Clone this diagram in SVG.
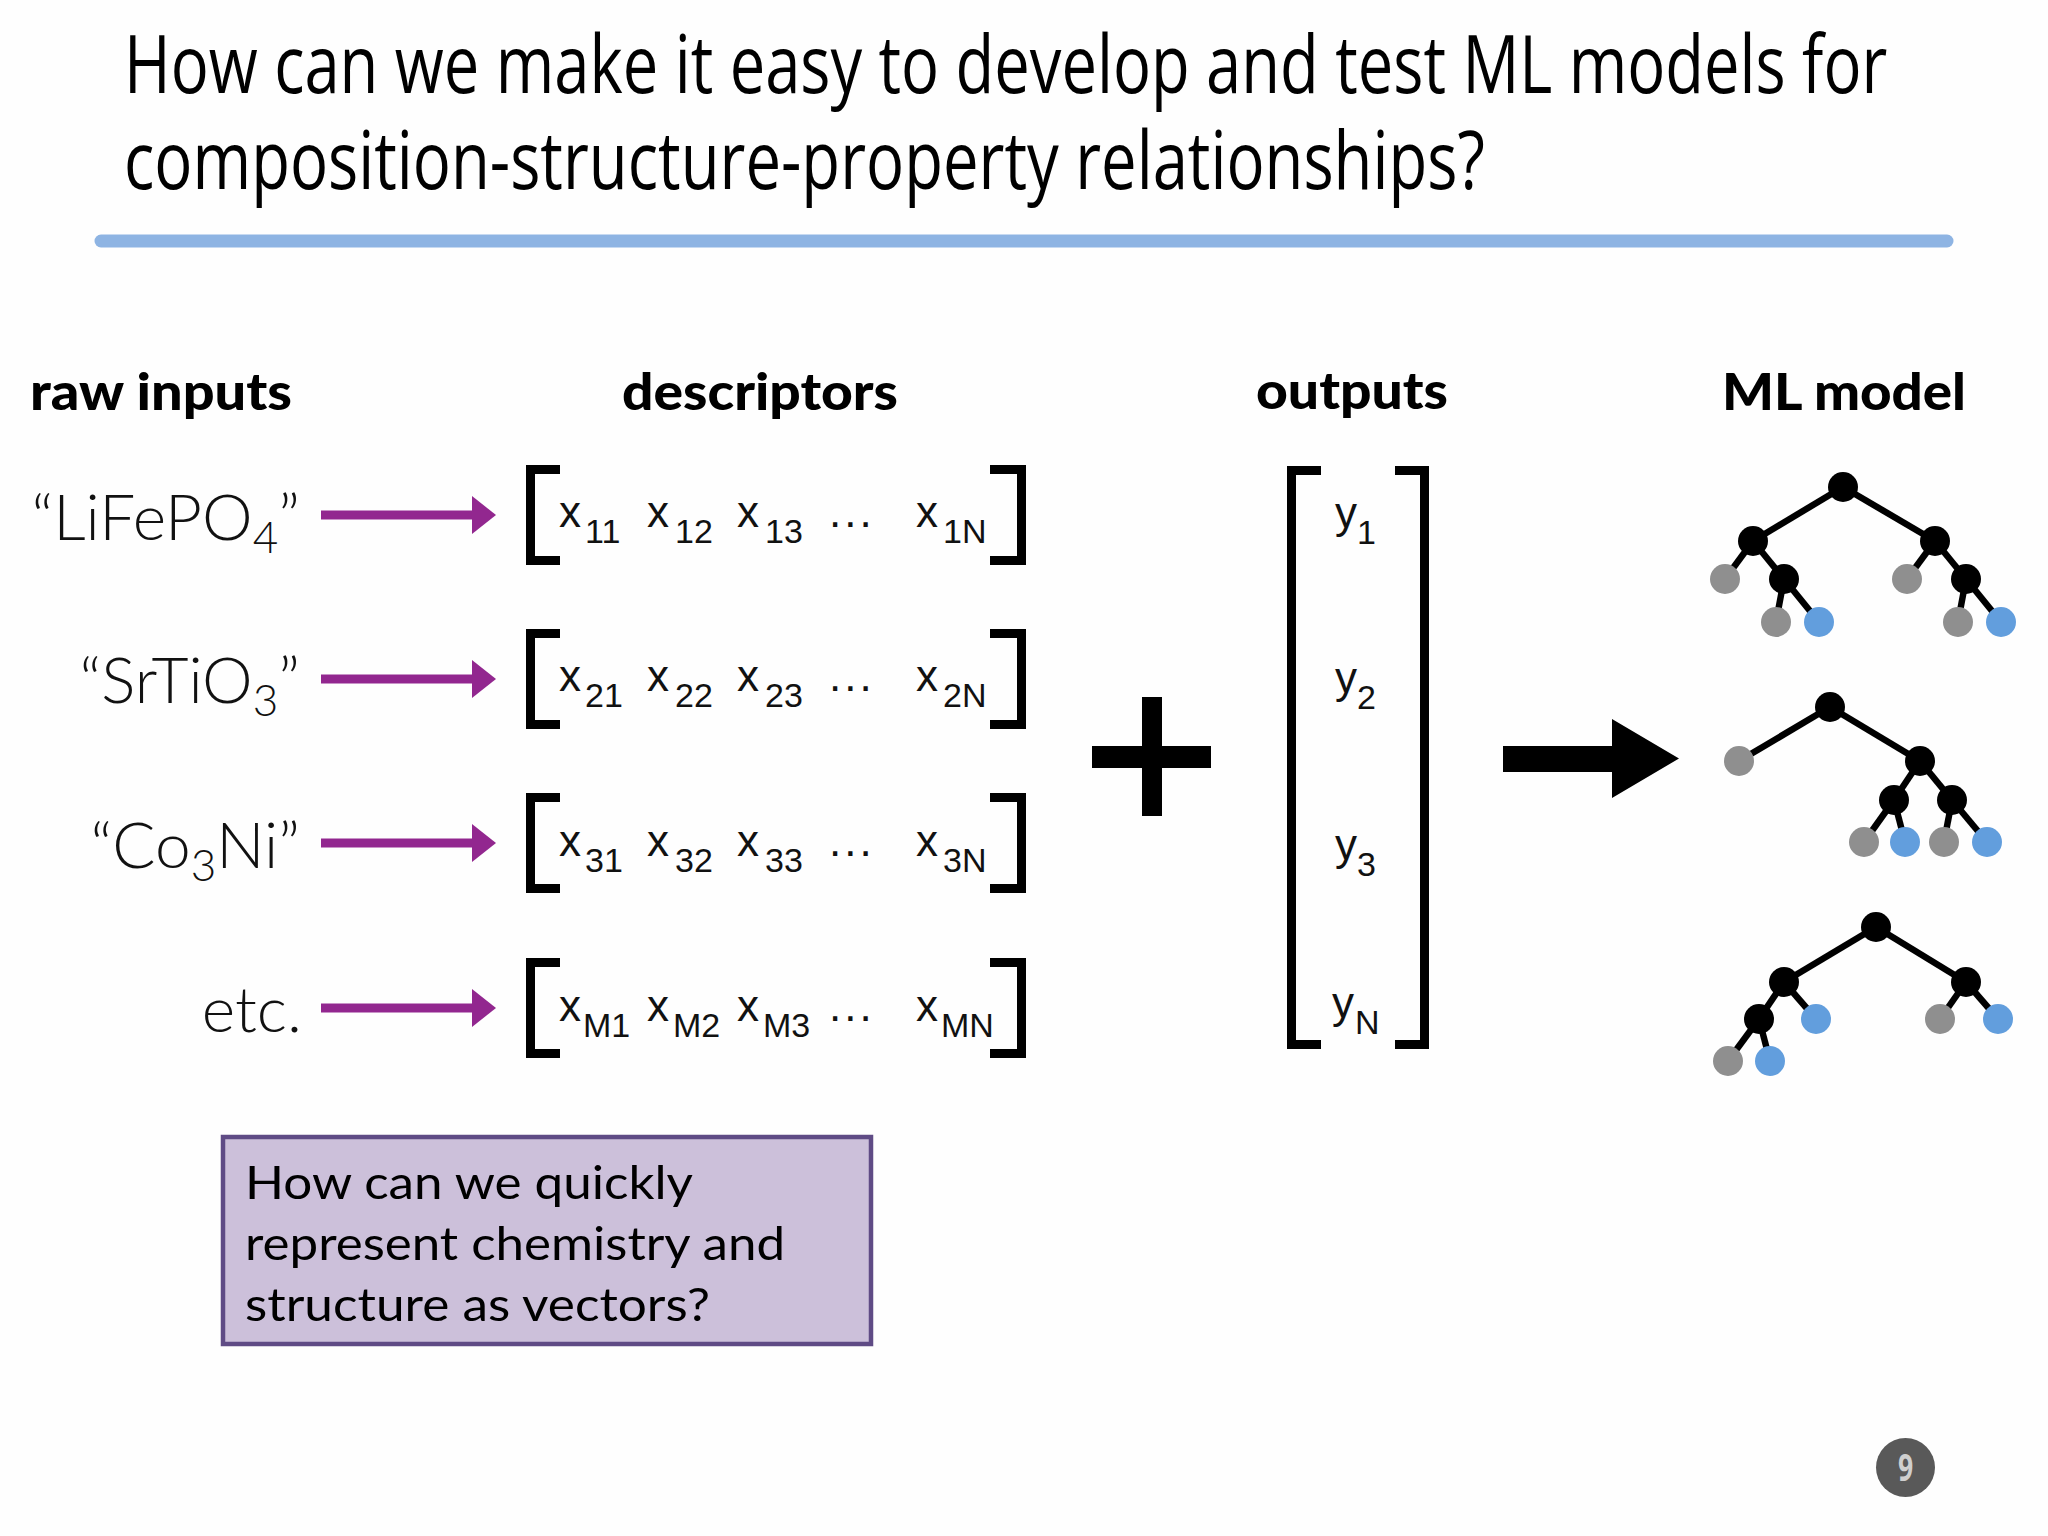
<svg xmlns="http://www.w3.org/2000/svg" width="2048" height="1536" viewBox="0 0 2048 1536">
<defs>
<style>
.title{font-family:"Open Sans","Liberation Sans",sans-serif;font-weight:500;font-size:80px;fill:#000}
.hdr{font-family:Lato,"Liberation Sans",sans-serif;font-weight:900;font-size:52px;fill:#000;text-anchor:middle}
.raw{font-family:Lato,"Liberation Sans",sans-serif;font-weight:300;font-size:64px;fill:#111;text-anchor:end}
.vx{font-family:"Liberation Sans",Arial,sans-serif;font-size:44px;fill:#111}
.vs{font-family:"Liberation Sans",Arial,sans-serif;font-size:34px;fill:#111}
.dots{font-family:"Liberation Sans",Arial,sans-serif;font-size:44px;fill:#111;letter-spacing:3px}
.brk{fill:none;stroke:#000;stroke-width:9}
.parr{stroke:#92278F;stroke-width:9;fill:none}
.edge{stroke:#000;stroke-width:6.5}
.n{fill:#000}
.g{fill:#8F8F8F}
.b{fill:#629EDD}
.box{font-family:Lato,"Liberation Sans",sans-serif;font-size:47px;fill:#000}
</style>
<marker id="ph" viewBox="0 0 24 38" refX="4" refY="19" markerWidth="24" markerHeight="38" markerUnits="userSpaceOnUse" orient="auto">
<path d="M0 0 L24 19 L0 38 Z" fill="#92278F"/>
</marker>
</defs>
<rect width="2048" height="1536" fill="#FEFEFE"/>

<g id="title">
<g transform="translate(124 0) scale(0.7 1)">
<text class="title" x="0" y="93" textLength="2519" lengthAdjust="spacingAndGlyphs">How can we make it easy to develop and test ML models for</text>
<text class="title" x="0" y="189" textLength="1944" lengthAdjust="spacingAndGlyphs">composition-structure-property relationships?</text>
</g>
<line x1="101" y1="241" x2="1947" y2="241" stroke="#8EB4E3" stroke-width="13" stroke-linecap="round"/>
</g>

<g id="headers">
<text class="hdr" x="161" y="410" textLength="262" lengthAdjust="spacingAndGlyphs">raw inputs</text>
<text class="hdr" x="760" y="410" textLength="276" lengthAdjust="spacingAndGlyphs">descriptors</text>
<text class="hdr" x="1352" y="409" textLength="192" lengthAdjust="spacingAndGlyphs">outputs</text>
<text class="hdr" x="1844" y="410" textLength="244" lengthAdjust="spacingAndGlyphs">ML model</text>
</g>

<g id="raw-inputs">
<text class="raw" x="300" y="540">“LiFePO<tspan font-size="44" dy="13">4</tspan><tspan dy="-13">”</tspan></text>
<text class="raw" x="300" y="703">“SrTiO<tspan font-size="44" dy="13">3</tspan><tspan dy="-13">”</tspan></text>
<text class="raw" x="300" y="868">“Co<tspan font-size="44" dy="13">3</tspan><tspan dy="-13">Ni”</tspan></text>
<text class="raw" x="302" y="1032">etc.</text>
</g>

<g id="connectors">
<line class="parr" x1="321" y1="515" x2="476" y2="515" marker-end="url(#ph)"/>
<line class="parr" x1="321" y1="679" x2="476" y2="679" marker-end="url(#ph)"/>
<line class="parr" x1="321" y1="843" x2="476" y2="843" marker-end="url(#ph)"/>
<line class="parr" x1="321" y1="1008" x2="476" y2="1008" marker-end="url(#ph)"/>
<polygon points="1503,746 1612,746 1612,719 1679,758.5 1612,798 1612,772 1503,772" fill="#000"/>
</g>

<g id="descriptor-row-1">
<path class="brk" d="M560 469.5 H530.5 V560.5 H560"/>
<path class="brk" d="M990 469.5 H1021.5 V560.5 H990"/>
<text class="vx" x="559" y="527">x</text><text class="vs" x="585" y="543">11</text>
<text class="vx" x="647" y="527">x</text><text class="vs" x="675" y="543">12</text>
<text class="vx" x="737" y="527">x</text><text class="vs" x="765" y="543">13</text>
<text class="dots" x="829" y="527">...</text>
<text class="vx" x="916" y="527">x</text><text class="vs" x="943" y="543">1N</text>
</g>
<g id="descriptor-row-2">
<path class="brk" d="M560 633.5 H530.5 V724.5 H560"/>
<path class="brk" d="M990 633.5 H1021.5 V724.5 H990"/>
<text class="vx" x="559" y="691">x</text><text class="vs" x="585" y="707">21</text>
<text class="vx" x="647" y="691">x</text><text class="vs" x="675" y="707">22</text>
<text class="vx" x="737" y="691">x</text><text class="vs" x="765" y="707">23</text>
<text class="dots" x="829" y="691">...</text>
<text class="vx" x="916" y="691">x</text><text class="vs" x="943" y="707">2N</text>
</g>
<g id="descriptor-row-3">
<path class="brk" d="M560 797.5 H530.5 V888.5 H560"/>
<path class="brk" d="M990 797.5 H1021.5 V888.5 H990"/>
<text class="vx" x="559" y="856">x</text><text class="vs" x="585" y="872">31</text>
<text class="vx" x="647" y="856">x</text><text class="vs" x="675" y="872">32</text>
<text class="vx" x="737" y="856">x</text><text class="vs" x="765" y="872">33</text>
<text class="dots" x="829" y="856">...</text>
<text class="vx" x="916" y="856">x</text><text class="vs" x="943" y="872">3N</text>
</g>
<g id="descriptor-row-4">
<path class="brk" d="M560 962.5 H530.5 V1053.5 H560"/>
<path class="brk" d="M990 962.5 H1021.5 V1053.5 H990"/>
<text class="vx" x="559" y="1021">x</text><text class="vs" x="583" y="1037">M1</text>
<text class="vx" x="647" y="1021">x</text><text class="vs" x="673" y="1037">M2</text>
<text class="vx" x="737" y="1021">x</text><text class="vs" x="763" y="1037">M3</text>
<text class="dots" x="829" y="1021">...</text>
<text class="vx" x="916" y="1021">x</text><text class="vs" x="941" y="1037">MN</text>
</g>

<g id="plus">
<rect x="1142" y="697" width="20" height="119" fill="#000"/>
<rect x="1092" y="746" width="119" height="22" fill="#000"/>
</g>

<g id="outputs">
<path class="brk" d="M1321 470.5 H1291.5 V1044.5 H1321"/>
<path class="brk" d="M1395 470.5 H1424.5 V1044.5 H1395"/>
<text class="vx" x="1335" y="528">y</text><text class="vs" x="1357" y="544">1</text>
<text class="vx" x="1335" y="693">y</text><text class="vs" x="1357" y="709">2</text>
<text class="vx" x="1335" y="860">y</text><text class="vs" x="1357" y="876">3</text>
<text class="vx" x="1332" y="1018">y</text><text class="vs" x="1355" y="1034">N</text>
</g>

<g id="tree-1">
<g class="edge">
<line x1="1843" y1="487" x2="1753" y2="541"/><line x1="1843" y1="487" x2="1935" y2="541"/>
<line x1="1753" y1="541" x2="1725" y2="579"/><line x1="1753" y1="541" x2="1784" y2="579"/>
<line x1="1784" y1="579" x2="1776" y2="622"/><line x1="1784" y1="579" x2="1819" y2="622"/>
<line x1="1935" y1="541" x2="1907" y2="579"/><line x1="1935" y1="541" x2="1966" y2="579"/>
<line x1="1966" y1="579" x2="1958" y2="622"/><line x1="1966" y1="579" x2="2001" y2="622"/>
</g>
<circle class="n" cx="1843" cy="487" r="15"/><circle class="n" cx="1753" cy="541" r="15"/><circle class="n" cx="1935" cy="541" r="15"/>
<circle class="g" cx="1725" cy="579" r="15"/><circle class="n" cx="1784" cy="579" r="15"/>
<circle class="g" cx="1776" cy="622" r="15"/><circle class="b" cx="1819" cy="622" r="15"/>
<circle class="g" cx="1907" cy="579" r="15"/><circle class="n" cx="1966" cy="579" r="15"/>
<circle class="g" cx="1958" cy="622" r="15"/><circle class="b" cx="2001" cy="622" r="15"/>
</g>

<g id="tree-2">
<g class="edge">
<line x1="1830" y1="707" x2="1739" y2="761"/><line x1="1830" y1="707" x2="1920" y2="761"/>
<line x1="1920" y1="761" x2="1894" y2="800"/><line x1="1920" y1="761" x2="1952" y2="800"/>
<line x1="1894" y1="800" x2="1864" y2="842"/><line x1="1894" y1="800" x2="1905" y2="842"/>
<line x1="1952" y1="800" x2="1944" y2="842"/><line x1="1952" y1="800" x2="1987" y2="842"/>
</g>
<circle class="n" cx="1830" cy="707" r="15"/><circle class="g" cx="1739" cy="761" r="15"/><circle class="n" cx="1920" cy="761" r="15"/>
<circle class="n" cx="1894" cy="800" r="15"/><circle class="n" cx="1952" cy="800" r="15"/>
<circle class="g" cx="1864" cy="842" r="15"/><circle class="b" cx="1905" cy="842" r="15"/>
<circle class="g" cx="1944" cy="842" r="15"/><circle class="b" cx="1987" cy="842" r="15"/>
</g>

<g id="tree-3">
<g class="edge">
<line x1="1876" y1="927" x2="1784" y2="982"/><line x1="1876" y1="927" x2="1966" y2="982"/>
<line x1="1784" y1="982" x2="1759" y2="1019"/><line x1="1784" y1="982" x2="1816" y2="1019"/>
<line x1="1759" y1="1019" x2="1728" y2="1061"/><line x1="1759" y1="1019" x2="1770" y2="1061"/>
<line x1="1966" y1="982" x2="1940" y2="1019"/><line x1="1966" y1="982" x2="1998" y2="1019"/>
</g>
<circle class="n" cx="1876" cy="927" r="15"/><circle class="n" cx="1784" cy="982" r="15"/><circle class="n" cx="1966" cy="982" r="15"/>
<circle class="n" cx="1759" cy="1019" r="15"/><circle class="b" cx="1816" cy="1019" r="15"/>
<circle class="g" cx="1728" cy="1061" r="15"/><circle class="b" cx="1770" cy="1061" r="15"/>
<circle class="g" cx="1940" cy="1019" r="15"/><circle class="b" cx="1998" cy="1019" r="15"/>
</g>

<g id="question-box">
<rect x="223" y="1137" width="648" height="207" fill="#CCC0DA" stroke="#5F4B85" stroke-width="4.5"/>
<text class="box" x="245" y="1199" textLength="448" lengthAdjust="spacingAndGlyphs">How can we quickly</text>
<text class="box" x="245" y="1260" textLength="540" lengthAdjust="spacingAndGlyphs">represent chemistry and</text>
<text class="box" x="245" y="1321" textLength="465" lengthAdjust="spacingAndGlyphs">structure as vectors?</text>
</g>

<g id="page-number">
<circle cx="1905.5" cy="1467.5" r="29.5" fill="#595959"/>
<text x="1905.5" y="1481" font-family="'Open Sans','Liberation Sans',sans-serif" font-weight="bold" font-size="38" fill="#CFCFCF" text-anchor="middle" transform="translate(1905.5 0) scale(0.7 1) translate(-1905.5 0)">9</text>
</g>
</svg>
